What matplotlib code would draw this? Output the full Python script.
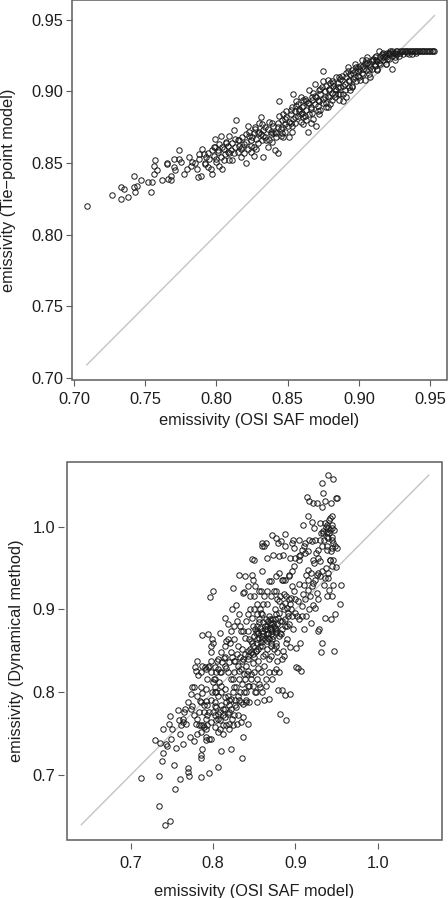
#!/usr/bin/env python3
"""
Emissivity scatter plots: Tie-point model and Dynamical method
against the OSI SAF model, each with a 1:1 reference line.
"""

import matplotlib
matplotlib.use('Agg')
import matplotlib.pyplot as plt
from matplotlib.patches import Rectangle

plt.rcParams['font.family'] = ['Liberation Sans', 'DejaVu Sans']

# Top panel: (OSI SAF model, Tie-point model)
top_pairs = [
    (0.709, 0.820), (0.727, 0.828), (0.733, 0.833), (0.733, 0.825), (0.735, 0.832),
    (0.738, 0.826), (0.742, 0.841), (0.742, 0.833), (0.743, 0.830), (0.744, 0.834),
    (0.747, 0.838), (0.752, 0.837), (0.754, 0.830), (0.755, 0.837), (0.756, 0.848),
    (0.757, 0.852), (0.756, 0.842), (0.758, 0.845), (0.762, 0.838), (0.765, 0.850),
    (0.765, 0.849), (0.766, 0.839), (0.768, 0.838), (0.768, 0.841), (0.770, 0.853),
    (0.770, 0.847), (0.771, 0.845), (0.774, 0.853), (0.774, 0.859), (0.775, 0.851),
    (0.777, 0.842), (0.779, 0.846), (0.781, 0.854), (0.782, 0.848), (0.785, 0.850),
    (0.787, 0.840), (0.788, 0.856), (0.788, 0.853), (0.789, 0.841), (0.790, 0.860),
    (0.792, 0.849), (0.793, 0.854), (0.794, 0.857), (0.797, 0.842), (0.798, 0.861),
    (0.799, 0.867), (0.800, 0.853), (0.801, 0.859), (0.803, 0.869), (0.804, 0.846),
    (0.804, 0.861), (0.807, 0.864), (0.809, 0.869), (0.809, 0.857), (0.811, 0.852),
    (0.812, 0.873), (0.814, 0.880), (0.815, 0.866), (0.817, 0.854), (0.818, 0.861),
    (0.821, 0.870), (0.821, 0.850), (0.822, 0.876), (0.824, 0.866), (0.826, 0.855),
    (0.826, 0.861), (0.827, 0.875), (0.830, 0.872), (0.831, 0.882), (0.832, 0.866),
    (0.833, 0.854), (0.834, 0.875), (0.836, 0.861), (0.838, 0.872), (0.839, 0.878),
    (0.841, 0.859), (0.842, 0.871), (0.843, 0.857), (0.844, 0.883), (0.844, 0.893),
    (0.846, 0.875), (0.847, 0.868), (0.848, 0.872), (0.849, 0.886), (0.851, 0.868),
    (0.852, 0.878), (0.853, 0.889), (0.854, 0.898), (0.855, 0.882), (0.856, 0.893),
    (0.858, 0.886), (0.859, 0.896), (0.860, 0.889), (0.861, 0.877), (0.862, 0.883),
    (0.863, 0.893), (0.864, 0.872), (0.865, 0.901), (0.866, 0.888), (0.867, 0.896),
    (0.868, 0.881), (0.869, 0.905), (0.870, 0.876), (0.871, 0.894), (0.872, 0.901),
    (0.873, 0.887), (0.875, 0.907), (0.876, 0.896), (0.877, 0.889), (0.878, 0.908),
    (0.879, 0.901), (0.881, 0.894), (0.882, 0.906), (0.883, 0.898), (0.884, 0.910),
    (0.885, 0.903), (0.886, 0.894), (0.888, 0.911), (0.889, 0.893), (0.890, 0.901),
    (0.891, 0.896), (0.892, 0.917), (0.893, 0.908), (0.895, 0.903), (0.896, 0.913),
    (0.897, 0.919), (0.898, 0.907), (0.899, 0.917), (0.900, 0.910), (0.902, 0.922),
    (0.903, 0.916), (0.904, 0.908), (0.905, 0.919), (0.906, 0.924), (0.907, 0.915),
    (0.908, 0.910), (0.910, 0.922), (0.911, 0.918), (0.912, 0.925), (0.913, 0.916),
    (0.914, 0.928), (0.915, 0.922), (0.917, 0.924), (0.918, 0.926), (0.919, 0.919),
    (0.920, 0.927), (0.921, 0.923), (0.922, 0.9285), (0.923, 0.916), (0.925, 0.924),
    (0.926, 0.9285), (0.875, 0.914), (0.878, 0.889), (0.935, 0.926),
    (0.792, 0.850), (0.795, 0.853), (0.798, 0.855), (0.800, 0.851), (0.801, 0.858),
    (0.803, 0.854), (0.805, 0.860), (0.806, 0.856), (0.808, 0.862), (0.810, 0.859),
    (0.811, 0.864), (0.813, 0.861), (0.815, 0.858), (0.816, 0.866), (0.818, 0.868),
    (0.819, 0.863), (0.821, 0.865), (0.823, 0.869), (0.824, 0.862), (0.826, 0.871),
    (0.828, 0.867), (0.829, 0.864), (0.831, 0.870), (0.833, 0.873), (0.834, 0.868),
    (0.836, 0.874), (0.838, 0.870), (0.840, 0.876), (0.841, 0.872), (0.843, 0.878),
    (0.845, 0.874), (0.846, 0.880), (0.848, 0.877), (0.849, 0.882), (0.851, 0.879),
    (0.852, 0.884), (0.854, 0.881), (0.855, 0.886), (0.857, 0.883), (0.858, 0.888),
    (0.860, 0.885), (0.861, 0.890), (0.863, 0.887), (0.864, 0.892), (0.866, 0.889),
    (0.867, 0.894), (0.869, 0.891), (0.870, 0.896), (0.872, 0.893), (0.873, 0.898),
    (0.875, 0.895), (0.876, 0.900), (0.878, 0.897), (0.879, 0.902), (0.881, 0.899),
    (0.882, 0.904), (0.884, 0.901), (0.885, 0.906), (0.887, 0.903), (0.888, 0.908),
    (0.890, 0.905), (0.891, 0.910), (0.893, 0.907), (0.894, 0.912), (0.896, 0.909),
    (0.897, 0.914), (0.899, 0.911), (0.900, 0.916), (0.902, 0.913), (0.903, 0.918),
    (0.905, 0.915), (0.906, 0.920), (0.908, 0.917), (0.909, 0.921), (0.911, 0.919),
    (0.912, 0.922), (0.914, 0.920), (0.915, 0.924), (0.917, 0.922), (0.918, 0.925),
    (0.920, 0.923), (0.921, 0.926), (0.923, 0.925), (0.924, 0.927), (0.926, 0.926),
    (0.927, 0.928), (0.929, 0.927), (0.930, 0.9285), (0.932, 0.928), (0.933, 0.9285),
    (0.935, 0.9285), (0.936, 0.928), (0.938, 0.9285), (0.939, 0.9285), (0.941, 0.9285),
    (0.942, 0.928), (0.944, 0.9285), (0.945, 0.9285), (0.947, 0.9285), (0.948, 0.9285),
    (0.950, 0.9285), (0.951, 0.9285), (0.953, 0.9285), (0.934, 0.927), (0.937, 0.926),
    (0.940, 0.927), (0.812, 0.857), (0.817, 0.860), (0.822, 0.860), (0.827, 0.874),
    (0.832, 0.877), (0.837, 0.866), (0.842, 0.868), (0.847, 0.884), (0.853, 0.876),
    (0.856, 0.890), (0.859, 0.879), (0.862, 0.895), (0.865, 0.884), (0.868, 0.899),
    (0.871, 0.886), (0.874, 0.903), (0.877, 0.892), (0.880, 0.906), (0.883, 0.896),
    (0.886, 0.910), (0.889, 0.898), (0.892, 0.914), (0.895, 0.904), (0.898, 0.917),
    (0.901, 0.908), (0.904, 0.920), (0.907, 0.912), (0.910, 0.923), (0.913, 0.915),
    (0.916, 0.926), (0.919, 0.919), (0.922, 0.927), (0.925, 0.922), (0.928, 0.925),
    (0.931, 0.926), (0.796, 0.846), (0.799, 0.861), (0.802, 0.848), (0.807, 0.865),
    (0.809, 0.852),
    (0.783, 0.851), (0.786, 0.846), (0.791, 0.856), (0.794, 0.847), (0.797, 0.859),
    (0.802, 0.863), (0.805, 0.852), (0.808, 0.858), (0.813, 0.867), (0.816, 0.862),
    (0.819, 0.857), (0.823, 0.872), (0.825, 0.868), (0.828, 0.860), (0.830, 0.878),
    (0.833, 0.869), (0.835, 0.866), (0.837, 0.879), (0.840, 0.871), (0.843, 0.875),
    (0.845, 0.869), (0.848, 0.881), (0.850, 0.876), (0.852, 0.887), (0.855, 0.878),
    (0.857, 0.891), (0.859, 0.884), (0.861, 0.894), (0.863, 0.880), (0.865, 0.892),
    (0.867, 0.885), (0.869, 0.897), (0.871, 0.890), (0.873, 0.902), (0.875, 0.892),
    (0.877, 0.904), (0.879, 0.896), (0.881, 0.907), (0.883, 0.902), (0.885, 0.898),
    (0.887, 0.909), (0.889, 0.904), (0.891, 0.913), (0.893, 0.903), (0.895, 0.915),
    (0.897, 0.910), (0.899, 0.914), (0.901, 0.918), (0.903, 0.912), (0.905, 0.922),
    (0.907, 0.919), (0.909, 0.916), (0.911, 0.924), (0.913, 0.921), (0.915, 0.919),
    (0.917, 0.927), (0.919, 0.924), (0.921, 0.927), (0.923, 0.928), (0.925, 0.927),
    (0.927, 0.926), (0.929, 0.9285), (0.931, 0.9285), (0.934, 0.9285), (0.937, 0.9285),
    (0.940, 0.9285), (0.943, 0.9285), (0.946, 0.9285), (0.949, 0.9285), (0.952, 0.9285),
    (0.824, 0.858), (0.829, 0.871), (0.839, 0.865), (0.846, 0.871), (0.853, 0.872),
    (0.861, 0.882), (0.866, 0.878), (0.872, 0.884), (0.880, 0.891), (0.887, 0.898),
    (0.894, 0.901),
]

# Bottom panel: (OSI SAF model, Dynamical method)
bottom_pairs = [
    (0.713, 0.696), (0.734, 0.663), (0.734, 0.699), (0.742, 0.640), (0.748, 0.644),
    (0.729, 0.742), (0.736, 0.739), (0.738, 0.717), (0.739, 0.726), (0.739, 0.755),
    (0.743, 0.738), (0.744, 0.735), (0.746, 0.762), (0.748, 0.771), (0.749, 0.744),
    (0.750, 0.755), (0.753, 0.712), (0.754, 0.683), (0.755, 0.733), (0.758, 0.778),
    (0.759, 0.766), (0.760, 0.750), (0.760, 0.695), (0.763, 0.764), (0.764, 0.737),
    (0.766, 0.780), (0.769, 0.708), (0.770, 0.704), (0.771, 0.699), (0.772, 0.746),
    (0.775, 0.783), (0.777, 0.741), (0.777, 0.806), (0.778, 0.831), (0.779, 0.762),
    (0.779, 0.825), (0.780, 0.796), (0.781, 0.750), (0.782, 0.821), (0.783, 0.760),
    (0.784, 0.789), (0.785, 0.721), (0.786, 0.698), (0.787, 0.869), (0.787, 0.732),
    (0.787, 0.799), (0.788, 0.760), (0.789, 0.776), (0.790, 0.830), (0.791, 0.789),
    (0.792, 0.755), (0.792, 0.746), (0.793, 0.773), (0.794, 0.830), (0.795, 0.702),
    (0.796, 0.915), (0.798, 0.744), (0.798, 0.849), (0.800, 0.859), (0.800, 0.922),
    (0.801, 0.816), (0.802, 0.831), (0.802, 0.783), (0.803, 0.800), (0.804, 0.766),
    (0.805, 0.838), (0.806, 0.774), (0.806, 0.710), (0.808, 0.872), (0.808, 0.824),
    (0.809, 0.755), (0.810, 0.807), (0.810, 0.729), (0.812, 0.780), (0.812, 0.749),
    (0.813, 0.841), (0.814, 0.890), (0.814, 0.794), (0.816, 0.862), (0.816, 0.829),
    (0.818, 0.774), (0.818, 0.882), (0.819, 0.790), (0.820, 0.762), (0.821, 0.860),
    (0.822, 0.731), (0.822, 0.848), (0.823, 0.901), (0.824, 0.926), (0.824, 0.816),
    (0.826, 0.838), (0.827, 0.784), (0.828, 0.905), (0.829, 0.762), (0.830, 0.856),
    (0.831, 0.942), (0.831, 0.826), (0.832, 0.894), (0.833, 0.800), (0.834, 0.874),
    (0.835, 0.838), (0.835, 0.720), (0.836, 0.746), (0.837, 0.770), (0.838, 0.921),
    (0.839, 0.940), (0.839, 0.865), (0.840, 0.790), (0.841, 0.822), (0.842, 0.894),
    (0.843, 0.761), (0.843, 0.850), (0.844, 0.808), (0.845, 0.916), (0.846, 0.862),
    (0.847, 0.941), (0.847, 0.961), (0.848, 0.835), (0.849, 0.880), (0.850, 0.900),
    (0.851, 0.800), (0.851, 0.928), (0.852, 0.850), (0.853, 0.874), (0.854, 0.788),
    (0.855, 0.829), (0.856, 0.885), (0.856, 0.922), (0.857, 0.806), (0.858, 0.861),
    (0.859, 0.946), (0.860, 0.977), (0.860, 0.894), (0.861, 0.844), (0.862, 0.790),
    (0.863, 0.876), (0.864, 0.980), (0.864, 0.816), (0.865, 0.962), (0.866, 0.906),
    (0.867, 0.866), (0.868, 0.792), (0.868, 0.840), (0.869, 0.888), (0.870, 0.934),
    (0.871, 0.856), (0.872, 0.874), (0.872, 0.990), (0.873, 0.966), (0.874, 0.824),
    (0.875, 0.900), (0.876, 0.922), (0.876, 0.876), (0.877, 0.986), (0.878, 0.848),
    (0.879, 0.803), (0.880, 0.964), (0.880, 0.910), (0.881, 0.872), (0.882, 0.774),
    (0.883, 0.982), (0.884, 0.803), (0.884, 0.886), (0.885, 0.936), (0.886, 0.844),
    (0.887, 0.991), (0.888, 0.977), (0.888, 0.797), (0.889, 0.767), (0.889, 0.916),
    (0.890, 0.864), (0.891, 0.892), (0.892, 0.940), (0.893, 0.854), (0.893, 0.798),
    (0.894, 0.962), (0.895, 0.900), (0.896, 0.928), (0.897, 0.984), (0.897, 0.876),
    (0.898, 0.952), (0.899, 0.974), (0.900, 0.913), (0.901, 0.831), (0.901, 0.853),
    (0.902, 0.892), (0.903, 0.829), (0.904, 0.964), (0.905, 0.984), (0.905, 0.931),
    (0.906, 0.859), (0.907, 0.825), (0.908, 0.892), (0.909, 1.002), (0.909, 0.918),
    (0.910, 0.977), (0.911, 0.876), (0.912, 0.968), (0.913, 0.941), (0.913, 0.892),
    (0.914, 1.036), (0.915, 1.013), (0.916, 0.936), (0.917, 1.031), (0.917, 0.984),
    (0.918, 0.916), (0.919, 0.884), (0.920, 1.006), (0.921, 0.960), (0.921, 1.028),
    (0.922, 0.932), (0.923, 0.998), (0.924, 0.902), (0.925, 0.968), (0.926, 1.028),
    (0.926, 0.941), (0.927, 0.874), (0.928, 0.912), (0.929, 0.876), (0.930, 1.004),
    (0.930, 0.958), (0.931, 0.848), (0.932, 1.024), (0.932, 0.860), (0.933, 1.053),
    (0.934, 0.995), (0.934, 1.040), (0.935, 0.930), (0.935, 0.984), (0.936, 0.890),
    (0.936, 1.031), (0.937, 0.950), (0.938, 0.994), (0.938, 0.916), (0.938, 0.972),
    (0.939, 1.002), (0.940, 0.938), (0.940, 1.062), (0.940, 0.986), (0.941, 0.924),
    (0.941, 1.008), (0.942, 0.960), (0.942, 0.996), (0.943, 1.028), (0.943, 0.888),
    (0.944, 0.984), (0.944, 0.916), (0.945, 1.013), (0.945, 1.002), (0.945, 0.974),
    (0.946, 1.057), (0.946, 0.930), (0.947, 0.996), (0.947, 0.850), (0.948, 0.894),
    (0.949, 1.034), (0.950, 0.951), (0.951, 0.974), (0.951, 1.035), (0.954, 0.907),
    (0.955, 0.929),
    (0.852, 0.872), (0.854, 0.880), (0.856, 0.866), (0.857, 0.856), (0.859, 0.874),
    (0.861, 0.885), (0.863, 0.864), (0.865, 0.870), (0.866, 0.880), (0.867, 0.886),
    (0.868, 0.892), (0.870, 0.876), (0.871, 0.882), (0.872, 0.888), (0.873, 0.868),
    (0.874, 0.880), (0.875, 0.888), (0.876, 0.860), (0.877, 0.894), (0.878, 0.882),
    (0.880, 0.896), (0.882, 0.886), (0.884, 0.904), (0.886, 0.900), (0.888, 0.908),
    (0.890, 0.902), (0.892, 0.912), (0.894, 0.906), (0.844, 0.864), (0.846, 0.848),
    (0.848, 0.856), (0.850, 0.842), (0.852, 0.850), (0.842, 0.840), (0.840, 0.832),
    (0.838, 0.822), (0.836, 0.840), (0.834, 0.828), (0.832, 0.816), (0.830, 0.832),
    (0.826, 0.824), (0.828, 0.806), (0.824, 0.800), (0.822, 0.792), (0.820, 0.784),
    (0.818, 0.796), (0.816, 0.788), (0.814, 0.780), (0.812, 0.772), (0.810, 0.784),
    (0.808, 0.776), (0.806, 0.768), (0.804, 0.782), (0.802, 0.772), (0.800, 0.776),
    (0.798, 0.764), (0.795, 0.776), (0.793, 0.760), (0.791, 0.768), (0.789, 0.758),
    (0.785, 0.760), (0.783, 0.776), (0.866, 0.852), (0.870, 0.844), (0.874, 0.852),
    (0.878, 0.838), (0.862, 0.832), (0.858, 0.824), (0.854, 0.816), (0.850, 0.824),
    (0.846, 0.816), (0.842, 0.808), (0.838, 0.800), (0.834, 0.788), (0.830, 0.796),
    (0.826, 0.806), (0.822, 0.816), (0.818, 0.824), (0.814, 0.832), (0.810, 0.824),
    (0.806, 0.828), (0.802, 0.816), (0.798, 0.824), (0.793, 0.816), (0.791, 0.828),
    (0.850, 0.868), (0.854, 0.860), (0.856, 0.888), (0.858, 0.896), (0.860, 0.864),
    (0.864, 0.888), (0.868, 0.864), (0.872, 0.864), (0.876, 0.872), (0.880, 0.868),
    (0.884, 0.876), (0.888, 0.888), (0.890, 0.880), (0.886, 0.918), (0.882, 0.916),
    (0.878, 0.912), (0.874, 0.922), (0.870, 0.916), (0.866, 0.922), (0.862, 0.916),
    (0.850, 0.916), (0.854, 0.906), (0.858, 0.922), (0.842, 0.874), (0.840, 0.886),
    (0.836, 0.874), (0.826, 0.864), (0.822, 0.874), (0.818, 0.864), (0.814, 0.856),
    (0.810, 0.848), (0.806, 0.840), (0.804, 0.824), (0.826, 0.772), (0.822, 0.780),
    (0.830, 0.772), (0.834, 0.764), (0.840, 0.788), (0.844, 0.788), (0.846, 0.822),
    (0.848, 0.808), (0.852, 0.800), (0.856, 0.810), (0.860, 0.800), (0.864, 0.808),
    (0.868, 0.824), (0.872, 0.816), (0.876, 0.828), (0.880, 0.824), (0.884, 0.840),
    (0.892, 0.882), (0.896, 0.892), (0.900, 0.896), (0.904, 0.888), (0.908, 0.904),
    (0.912, 0.912), (0.916, 0.924), (0.920, 0.928), (0.924, 0.936), (0.928, 0.944),
    (0.932, 0.946), (0.936, 0.938), (0.940, 0.944), (0.942, 0.960), (0.944, 0.952),
    (0.946, 0.980), (0.944, 0.988), (0.942, 1.010), (0.940, 0.998), (0.938, 0.988),
    (0.936, 1.004), (0.934, 0.992), (0.932, 0.976), (0.930, 0.984), (0.928, 0.972),
    (0.924, 0.984), (0.920, 0.982), (0.916, 0.970), (0.912, 0.980), (0.908, 0.972),
    (0.904, 0.960), (0.900, 0.962), (0.896, 0.946), (0.892, 0.942), (0.888, 0.936),
    (0.884, 0.936), (0.880, 0.944), (0.876, 0.940),
    (0.781, 0.838), (0.785, 0.824), (0.787, 0.832), (0.795, 0.832), (0.798, 0.838),
    (0.800, 0.812), (0.791, 0.804), (0.785, 0.806), (0.773, 0.798), (0.775, 0.806),
    (0.769, 0.788), (0.765, 0.776), (0.763, 0.768), (0.761, 0.760), (0.767, 0.762),
    (0.773, 0.780), (0.777, 0.772), (0.781, 0.768), (0.785, 0.788), (0.789, 0.784),
    (0.793, 0.784), (0.802, 0.788), (0.806, 0.796), (0.810, 0.800), (0.814, 0.804),
    (0.804, 0.800), (0.808, 0.766), (0.812, 0.760), (0.816, 0.760), (0.820, 0.756),
    (0.824, 0.760), (0.828, 0.782), (0.832, 0.790), (0.836, 0.786), (0.840, 0.800),
    (0.785, 0.752), (0.791, 0.742), (0.795, 0.744), (0.802, 0.758), (0.806, 0.752),
    (0.785, 0.724), (0.794, 0.870), (0.797, 0.856), (0.799, 0.864), (0.836, 0.920),
    (0.842, 0.928), (0.848, 0.936), (0.850, 0.960), (0.860, 0.980), (0.862, 0.977),
    (0.868, 0.934), (0.879, 0.980), (0.885, 0.966), (0.896, 0.980), (0.906, 0.966),
    (0.851, 0.876), (0.853, 0.864), (0.855, 0.872), (0.857, 0.878), (0.859, 0.868),
    (0.861, 0.872), (0.863, 0.880), (0.865, 0.876), (0.867, 0.872), (0.869, 0.878),
    (0.871, 0.870), (0.873, 0.884), (0.875, 0.878), (0.877, 0.874), (0.879, 0.890),
    (0.869, 0.884), (0.865, 0.862), (0.859, 0.856), (0.855, 0.852), (0.849, 0.846),
    (0.847, 0.860), (0.845, 0.852), (0.843, 0.844), (0.839, 0.846), (0.835, 0.852),
    (0.833, 0.842), (0.829, 0.846), (0.827, 0.838), (0.823, 0.842), (0.819, 0.836),
    (0.815, 0.842), (0.811, 0.836), (0.807, 0.812), (0.803, 0.806), (0.799, 0.800),
    (0.797, 0.790), (0.815, 0.770), (0.819, 0.776), (0.823, 0.768), (0.827, 0.790),
    (0.835, 0.810), (0.839, 0.816), (0.843, 0.826), (0.855, 0.838), (0.863, 0.846),
    (0.871, 0.860), (0.883, 0.870), (0.887, 0.880), (0.891, 0.896), (0.895, 0.914),
    (0.899, 0.922), (0.903, 0.910), (0.911, 0.930), (0.915, 0.948), (0.919, 0.944),
    (0.923, 0.956), (0.927, 0.962), (0.931, 0.992), (0.937, 1.000), (0.939, 0.976),
    (0.943, 0.970), (0.946, 0.960), (0.948, 0.976), (0.944, 0.998), (0.941, 0.992),
    (0.930, 0.940), (0.926, 0.920), (0.921, 0.905), (0.917, 0.900), (0.885, 0.850),
    (0.889, 0.860), (0.877, 0.856), (0.861, 0.906), (0.857, 0.900), (0.853, 0.894),
    (0.847, 0.890), (0.845, 0.900), (0.833, 0.880), (0.829, 0.886), (0.825, 0.880),
]

top_ticks = [0.70, 0.75, 0.80, 0.85, 0.90, 0.95]
top_tick_labels = ['0.70', '0.75', '0.80', '0.85', '0.90', '0.95']
bottom_ticks = [0.7, 0.8, 0.9, 1.0]
bottom_tick_labels = ['0.7', '0.8', '0.9', '1.0']

x_label = 'emissivity (OSI SAF model)'
top_y_label = 'emissivity (Tie\u2212point model)'
bottom_y_label = 'emissivity (Dynamical method)'

BOX = '#5c5c5c'
TEXT = '#1e1e1e'
MARK = '#1a1a1a'
REF = '#c4c4c4'
FS = 11.8

W, H = 448, 898


def draw_panel(fig, rect, pairs, ticks, labels, xlim, ylim, offset, xpad, ypad):
    ax = fig.add_axes(rect)
    xs = [p[0] for p in pairs]
    ys = [p[1] for p in pairs]

    # 1:1 reference line spanning the data range
    lo = min(min(xs), min(ys))
    hi = max(max(xs), max(ys))
    ax.plot([lo, hi], [lo, hi], color=REF, lw=1.0, zorder=1)

    ax.plot(xs, ys, 'o', ms=3.9, mfc='none', mec=MARK, mew=0.7, zorder=2)

    ax.set_xlim(*xlim)
    ax.set_ylim(*ylim)
    ax.set_xticks(ticks)
    ax.set_xticklabels(labels)
    ax.set_yticks(ticks)
    ax.set_yticklabels(labels)

    for side in ['top', 'right']:
        ax.spines[side].set_visible(False)
    for side in ['left', 'bottom']:
        ax.spines[side].set_position(('outward', offset))
        ax.spines[side].set_visible(False)
    ax.add_patch(Rectangle((0, 0), 1, 1, transform=ax.transAxes, fill=False,
                           ec=BOX, lw=1.1, clip_on=False, zorder=3))

    ax.tick_params(direction='out', length=4.6, width=0.8, color=BOX,
                   labelsize=FS, labelcolor=TEXT)
    ax.tick_params(axis='x', pad=xpad)
    ax.tick_params(axis='y', pad=ypad)
    return ax


fig = plt.figure(figsize=(W / 100, H / 100), dpi=100)

# top panel, box in pixels: x 72..447, y 0..380
draw_panel(fig, [72 / W, 1 - 380 / H, 375 / W, 380 / H], top_pairs,
           top_ticks, top_tick_labels, (0.6986, 0.9618), (0.6984, 0.9639),
           0, 4.2, 1.7)
fig.text(8.5 / W, 1 - 190 / H, top_y_label, rotation=90, ha='center',
         va='center', fontsize=FS, color=TEXT)
fig.text(259 / W, 1 - 421 / H, x_label, ha='center', va='center',
         fontsize=FS, color=TEXT)

# bottom panel, box in pixels: x 66.7..441.7, y 462..840
draw_panel(fig, [66.7 / W, 1 - 840 / H, 375 / W, 378 / H], bottom_pairs,
           bottom_ticks, bottom_tick_labels, (0.6222, 1.0779), (0.6215, 1.078),
           1.8, 4.8, 2.0)
fig.text(16.7 / W, 1 - 651 / H, bottom_y_label, rotation=90, ha='center',
         va='center', fontsize=FS, color=TEXT)
fig.text(254 / W, 1 - 891.5 / H, x_label, ha='center', va='center',
         fontsize=FS, color=TEXT)

fig.savefig('out.png', dpi=100)
